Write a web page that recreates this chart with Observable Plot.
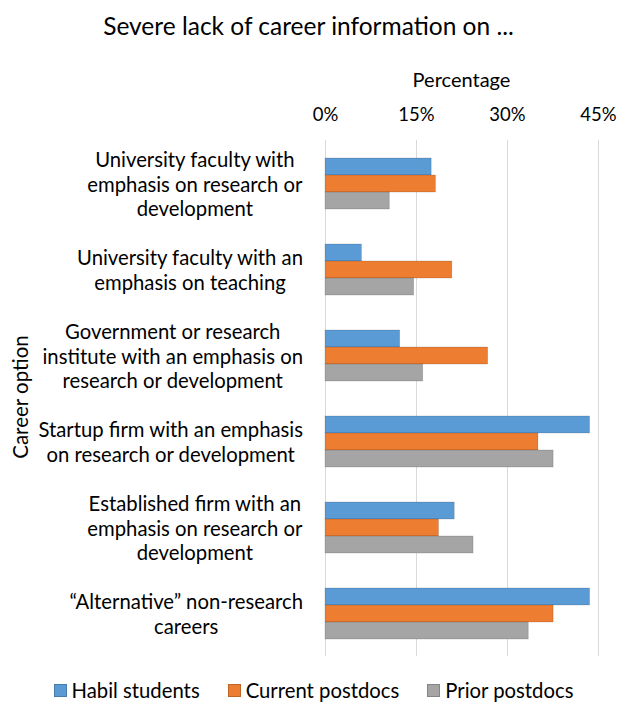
<!DOCTYPE html>
<html>
<head>
<meta charset="utf-8">
<script src="https://cdn.jsdelivr.net/npm/d3@7"></script>
<script src="https://cdn.jsdelivr.net/npm/@observablehq/plot@0.6"></script>
<style>
  html, body { margin: 0; padding: 0; background: #fff; }
  #wrap { position: relative; width: 617px; height: 706px; font-family: Lato, "Open Sans", sans-serif; color: #000; overflow: hidden; }
  #title { position: absolute; top: 11px; left: 0; width: 617px; text-align: center; font-size: 24.5px; line-height: 29px; }
  #xlabel { position: absolute; top: 67px; left: 325px; width: 273px; text-align: center; font-size: 20px; line-height: 24px; }
  #ylabel { position: absolute; left: -80px; top: 385px; width: 200px; height: 24px; line-height: 24px; text-align: center; font-size: 20.5px; transform: rotate(-90deg); }
  #chart { position: absolute; top: 0; left: 0; }
  #legend { position: absolute; top: 678px; left: 5px; width: 617px; display: flex; justify-content: center; font-size: 20.3px; line-height: 24px; }
  .item { display: flex; align-items: center; margin: 0 14px; }
  .sw { width: 13px; height: 13px; margin-right: 5px; box-sizing: border-box; border: 1px solid rgba(0,0,0,0.2); }
</style>
</head>
<body>
<div id="wrap">
  <div id="title"></div>
  <div id="xlabel"></div>
  <div id="ylabel"></div>
  <div id="chart"></div>
  <div id="legend"></div>
</div>
<script>
const titleText = "Severe lack of career information on ...";
const xLabel = "Percentage";
const yLabel = "Career option";
const categories = [
  "University faculty with\nemphasis on research or\ndevelopment",
  "University faculty with an\nemphasis on teaching",
  "Government or research\ninstitute with an emphasis on\nresearch or development",
  "Startup firm with an emphasis\non research or development",
  "Established firm with an\nemphasis on research or\ndevelopment",
  "\u201cAlternative\u201d non-research\ncareers"
];
const series = ["Habil students", "Current postdocs", "Prior postdocs"];
const habil   = [17.5,  6.0, 12.3, 43.6, 21.3, 43.6];
const current = [18.2, 20.9, 26.8, 35.1, 18.7, 37.6];
const prior   = [10.6, 14.6, 16.1, 37.6, 24.4, 33.5];
const xTicks = [0, 15, 30, 45];
const colors = ["#5B9BD5", "#ED7D31", "#A5A5A5"];

const valuesBySeries = [habil, current, prior];
const rows = [];
categories.forEach((c, i) => {
  series.forEach((s, j) => rows.push({category: c, series: s, value: valuesBySeries[j][i]}));
});
const labelRows = categories.map(c => ({category: c}));

document.getElementById("title").textContent = titleText;
document.getElementById("xlabel").textContent = xLabel;
document.getElementById("ylabel").textContent = yLabel;

const plot = Plot.plot({
  width: 617,
  height: 670,
  marginTop: 137,
  marginBottom: 12,
  marginLeft: 325,
  marginRight: 19,
  style: {fontFamily: "Lato, 'Open Sans', sans-serif", fontSize: "18.5px", color: "#000", background: "transparent", overflow: "visible"},
  x: {domain: [0, 45], axis: "top", ticks: xTicks, tickFormat: d => d + "%", tickSize: 0, tickPadding: 20, label: null},
  y: {domain: series, paddingInner: 0, paddingOuter: 0.97, axis: null},
  fy: {domain: categories, padding: 0, axis: null},
  color: {domain: series, range: colors},
  marks: [
    Plot.ruleX(xTicks, {stroke: "#d9d9d9", strokeWidth: 1}),
    Plot.barX(rows, {x: "value", y: "series", fy: "category", fill: "series", stroke: "#000", strokeOpacity: 0.18, strokeWidth: 0.8}),
    Plot.text(labelRows, {fy: "category", text: "category", frameAnchor: "left", dx: -120, textAnchor: "middle", fontSize: 20.3, lineHeight: 1.23, fill: "#000"})
  ]
});
document.getElementById("chart").appendChild(plot);

// Excel-style category labels: lines centred within a block whose right edge sits next to the axis
const svgRect = plot.getBoundingClientRect();
const rightEdge = 303;
plot.querySelectorAll('g[aria-label="text"] text').forEach(t => {
  const r = t.getBoundingClientRect();
  const shift = rightEdge - (r.right - svgRect.left);
  t.setAttribute("transform", `translate(${shift},0) ` + (t.getAttribute("transform") || ""));
});

const legend = document.getElementById("legend");
series.forEach((s, i) => {
  const item = document.createElement("div");
  item.className = "item";
  const sw = document.createElement("span");
  sw.className = "sw";
  sw.style.background = colors[i];
  const lab = document.createElement("span");
  lab.textContent = s;
  item.appendChild(sw);
  item.appendChild(lab);
  legend.appendChild(item);
});
</script>
</body>
</html>
